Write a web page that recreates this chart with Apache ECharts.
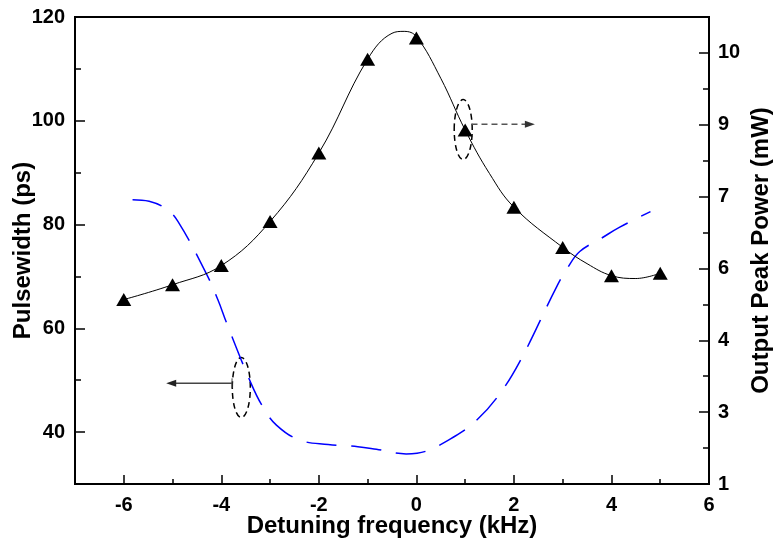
<!DOCTYPE html>
<html>
<head>
<meta charset="utf-8">
<script src="https://cdn.jsdelivr.net/npm/echarts@6/dist/echarts.min.js"></script>
<style>
html, body { margin: 0; padding: 0; background: #fff; }
#main { width: 776px; height: 539px; }
</style>
</head>
<body>
<div id="main"></div>
<script>
// measured points: detuning frequency (kHz) and output peak power (mW, right axis)
const detuning = [-6, -5, -4, -3, -2, -1, 0, 1, 2, 3, 4, 5];
const peakPower = [4.85, 5.16, 5.56, 6.48, 7.91, 9.87, 10.31, 8.39, 6.78, 5.94, 5.35, 5.40];
// black spline through the power points
const powerCurveX = [-6, -5, -4, -3, -2, -1, -0.5, -0.25, 0, 0.5, 1, 1.5, 2, 3, 3.5, 4, 4.5, 5];
const powerCurveY = [4.85, 5.16, 5.56, 6.48, 7.91, 9.87, 10.41, 10.45, 10.34, 9.47, 8.39, 7.48, 6.78, 5.94, 5.6, 5.35, 5.29, 5.40];
// blue dashed pulsewidth curve (ps, left axis)
const widthCurveX = [-5.82, -5.48, -5.13, -4.89, -4.31, -4.07, -3.89, -3.39, -3.15, -2.87, -2.40, -1.81, -1.20, -0.82, -0.21, 0.19, 0.79, 1.20, 1.64, 2.12, 2.87, 3.11, 3.35, 3.80, 4.17, 4.80];
const widthCurveY = [84.8, 84.5, 83.0, 80.6, 70.6, 65.5, 61.0, 49.4, 44.9, 41.35, 38.5, 37.6, 37.2, 36.7, 35.8, 36.3, 39.2, 42.0, 46.5, 53.6, 67.9, 71.8, 74.8, 77.4, 79.5, 82.5];
// tick positions
const xMajorTicks = [-6, -4, -2, 0, 2, 4, 6];
const xMinorTicks = [-5, -3, -1, 1, 3, 5];
const leftMajorTicks = [40, 60, 80, 100, 120];
const leftMinorTicks = [50, 70, 90, 110];

const FONT = "'Liberation Sans', Arial, sans-serif";
const labelStyle = { color: '#000', fontFamily: FONT, fontWeight: 'bold', fontSize: 20 };
const nameStyle = { color: '#000', fontFamily: FONT, fontWeight: 'bold', fontSize: 24 };

let myChart = echarts.init(document.getElementById('main'));

let option = {
    animation: false,
    backgroundColor: '#fff',
    grid: {
        left: 75, right: 67, top: 17, bottom: 55,
        containLabel: false, outerBoundsMode: 'none',
        show: true, borderColor: '#000', borderWidth: 2
    },
    xAxis: [
        {
            type: 'value', min: -7, max: 6, position: 'bottom',
            name: 'Detuning frequency (kHz)', nameLocation: 'middle', nameGap: 30, nameMoveOverlap: false,
            nameTextStyle: nameStyle,
            axisLine: { onZero: false, lineStyle: { color: '#000', width: 2 } },
            axisTick: { inside: true, length: 9, customValues: xMajorTicks, lineStyle: { color: '#000', width: 1.5 } },
            axisLabel: Object.assign({ margin: 11, customValues: xMajorTicks }, labelStyle),
            splitLine: { show: false }
        },
        {
            type: 'value', min: -7, max: 6, position: 'bottom',
            axisLine: { show: false, onZero: false },
            axisTick: { inside: true, length: 5, customValues: xMinorTicks, lineStyle: { color: '#000', width: 1.5 } },
            axisLabel: { show: false },
            splitLine: { show: false }
        }
    ],
    yAxis: [
        {
            type: 'value', min: 30, max: 120, position: 'left',
            name: 'Pulsewidth (ps)', nameLocation: 'middle', nameGap: 40, nameRotate: 90, nameMoveOverlap: false,
            nameTextStyle: nameStyle,
            axisLine: { show: true, onZero: false, lineStyle: { color: '#000', width: 2 } },
            axisTick: { inside: true, length: 10, customValues: leftMajorTicks, lineStyle: { color: '#000', width: 1.5 } },
            axisLabel: Object.assign({ margin: 10, customValues: leftMajorTicks }, labelStyle),
            splitLine: { show: false }
        },
        {
            type: 'value', min: 1, max: 10.75, interval: 1.5, position: 'right',
            name: 'Output Peak Power (mW)', nameLocation: 'middle', nameGap: 40, nameRotate: 90, nameMoveOverlap: false,
            nameTextStyle: nameStyle,
            axisLine: { show: true, onZero: false, lineStyle: { color: '#000', width: 2 } },
            axisTick: { inside: true, length: 10, lineStyle: { color: '#000', width: 1.5 } },
            minorTick: { show: true, splitNumber: 2, length: 6, lineStyle: { color: '#000', width: 1.5 } },
            axisLabel: Object.assign({
                margin: 9,
                showMaxLabel: false,
                formatter: v => (v > 10.5 ? '' : String(Math.round(v)))
            }, labelStyle),
            splitLine: { show: false }
        },
        {
            type: 'value', min: 30, max: 120, position: 'left',
            axisLine: { show: false, onZero: false },
            axisTick: { inside: true, length: 6, customValues: leftMinorTicks, lineStyle: { color: '#000', width: 1.5 } },
            axisLabel: { show: false },
            splitLine: { show: false }
        }
    ],
    series: [
        {
            name: 'Pulsewidth',
            type: 'line',
            xAxisIndex: 0, yAxisIndex: 0,
            smooth: 0.4,
            showSymbol: false,
            lineStyle: { color: '#0000ff', width: 1.5, type: [30, 15] },
            data: widthCurveX.map((x, i) => [x, widthCurveY[i]])
        },
        {
            name: 'PowerCurve',
            type: 'line',
            xAxisIndex: 0, yAxisIndex: 1,
            smooth: 0.4,
            showSymbol: false,
            lineStyle: { color: '#000', width: 1 },
            data: powerCurveX.map((x, i) => [x, powerCurveY[i]])
        },
        {
            name: 'Power',
            type: 'scatter',
            xAxisIndex: 0, yAxisIndex: 1,
            symbol: 'triangle',
            symbolSize: [15, 13],
            itemStyle: { color: '#000', opacity: 1 },
            data: detuning.map((x, i) => [x, peakPower[i]])
        }
    ]
};
myChart.setOption(option);

// ellipses and arrows telling which curve goes with which axis
function drawMarks() {
    const px = (si, pt) => myChart.convertToPixel({ seriesIndex: si }, pt);
    const le = px(0, [-3.59, 48.6]);
    const la0 = px(0, [-3.78, 49.4]);
    const la1 = px(0, [-5.13, 49.4]);
    const re = px(2, [0.96, 8.40]);
    const ra0 = px(2, [1.13, 8.51]);
    const ra1 = px(2, [2.43, 8.51]);
    const dash = { stroke: '#000', lineWidth: 1.5, lineDash: [6, 4], fill: null };
    myChart.setOption({
        graphic: [
            { type: 'ellipse', shape: { cx: le[0], cy: le[1], rx: 9, ry: 30 }, style: dash },
            { type: 'line', shape: { x1: la0[0], y1: la0[1], x2: la1[0] + 8, y2: la1[1] }, style: { stroke: '#444', lineWidth: 1.5 } },
            { type: 'line', shape: { x1: la0[0], y1: la0[1] - 5, x2: la0[0], y2: la0[1] + 5 }, style: { stroke: '#444', lineWidth: 1 } },
            { type: 'polygon', shape: { points: [[la1[0], la1[1]], [la1[0] + 10, la1[1] - 3.5], [la1[0] + 10, la1[1] + 3.5]] }, style: { fill: '#222' } },
            { type: 'ellipse', shape: { cx: re[0], cy: re[1], rx: 9, ry: 30 }, style: dash },
            { type: 'line', shape: { x1: ra0[0], y1: ra0[1], x2: ra1[0] - 8, y2: ra1[1] }, style: { stroke: '#555', lineWidth: 1.5, lineDash: [6, 4] } },
            { type: 'polygon', shape: { points: [[ra1[0], ra1[1]], [ra1[0] - 10, ra1[1] - 3.5], [ra1[0] - 10, ra1[1] + 3.5]] }, style: { fill: '#333' } }
        ]
    });
}
drawMarks();
</script>
</body>
</html>
